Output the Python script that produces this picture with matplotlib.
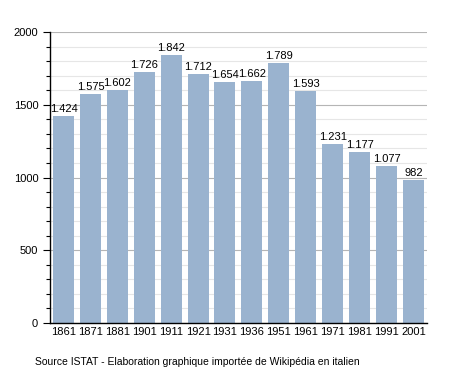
import matplotlib
matplotlib.use("Agg")
import matplotlib.pyplot as plt
from matplotlib.ticker import MultipleLocator

years = ["1861", "1871", "1881", "1901", "1911", "1921", "1931",
         "1936", "1951", "1961", "1971", "1981", "1991", "2001"]
population = [1424, 1575, 1602, 1726, 1842, 1712, 1654,
              1662, 1789, 1593, 1231, 1177, 1077, 982]
labels = ["1.424", "1.575", "1.602", "1.726", "1.842", "1.712", "1.654",
          "1.662", "1.789", "1.593", "1.231", "1.177", "1.077", "982"]

plt.rcParams['font.family'] = ['Liberation Sans', 'DejaVu Sans']

fig = plt.figure(figsize=(4.55, 3.73), dpi=100)
ax = fig.add_axes([0.110, 0.134, 0.828, 0.780])

x = range(len(years))
ax.bar(x, population, width=0.78, color="#9ab3cf", zorder=2)
for i, (v, lab) in enumerate(zip(population, labels)):
	ax.text(i, v + 15, lab, ha="center", va="bottom", fontsize=8, zorder=3)

ax.set_xlim(-0.5, len(years) - 0.5)
ax.set_ylim(0, 2000)
ax.set_xticks(list(x))
ax.set_xticklabels(years, fontsize=8)
ax.yaxis.set_major_locator(MultipleLocator(500))
ax.yaxis.set_minor_locator(MultipleLocator(100))
ax.tick_params(axis="y", labelsize=8, length=5, width=0.8)
ax.tick_params(axis="y", which="minor", length=3, width=0.8)
ax.tick_params(axis="x", length=0, pad=3)

ax.grid(axis="y", which="major", color="#b5b5b5", linewidth=0.8, zorder=0)
ax.grid(axis="y", which="minor", color="#e6e6e6", linewidth=0.8, zorder=0)

for side in ["top", "right"]:
	ax.spines[side].set_visible(False)
ax.spines["left"].set_linewidth(1.0)
ax.spines["bottom"].set_linewidth(1.0)

fig.text(0.077, 0.015, "Source ISTAT - Elaboration graphique importée de Wikipédia en italien",
         fontsize=7.5, ha="left", va="bottom")

fig.savefig("out.png", dpi=100)
